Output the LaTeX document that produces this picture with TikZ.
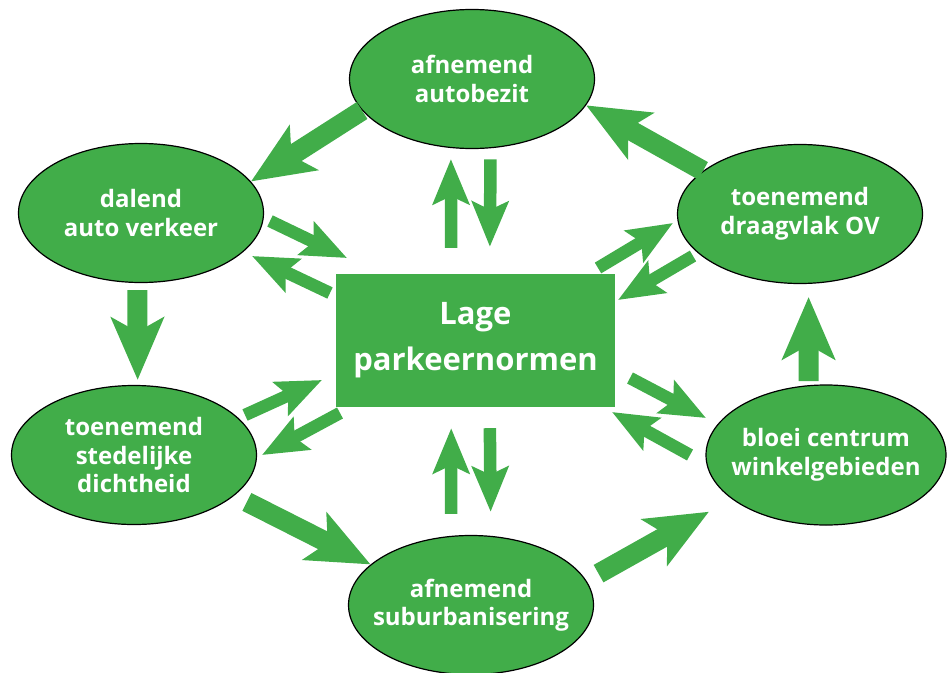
\documentclass[tikz,border=0pt]{standalone}
\usepackage{fontspec}
\setmainfont{Open Sans}
\usetikzlibrary{shapes.geometric, arrows.meta, positioning}
\definecolor{pijlgroen}{RGB}{65,173,73}
\tikzset{
	bol/.style={ellipse, draw=black, line width=1.2pt, fill=pijlgroen, minimum width=245pt, minimum height=139pt, inner sep=0pt},
	boltekst/.style={align=center, text=white, font=\fontsize{24}{28.5}\selectfont\bfseries},
	blok/.style={rectangle, fill=pijlgroen, minimum width=279pt, minimum height=133pt},
	bloktekst/.style={align=center, text=white, font=\fontsize{31}{46}\selectfont\bfseries},
	grotepijl/.style={draw=pijlgroen, line width=20pt, -{Stealth[length=62pt, width=52pt, inset=14pt]}},
	kleinepijl/.style={draw=pijlgroen, line width=12.5pt, -{Stealth[length=45pt, width=36pt, inset=8pt]}}
}

\begin{document}
\begin{tikzpicture}[x=1pt, y=-1pt]
		\useasboundingbox (0,0) rectangle (947,672);
		
		% Centre
		\node[blok] (parkeer) at (475.5,340.5) {};
		\node[bloktekst] at (parkeer) {Lage\\parkeernormen};
		
		% Ring of effects
		\node[bol] (autobezit) at (472,79) {};
		\node[boltekst] at (autobezit) {afnemend\\autobezit};
		
		\node[bol] (verkeer) at (141,213) {};
		\node[boltekst] at (verkeer) {dalend\\auto verkeer};
		
		\node[bol] (draagvlak) at (800,214) {};
		\node[boltekst] at (draagvlak) {toenemend\\draagvlak OV};
		
		\node[bol] (dichtheid) at (134,455) {};
		\node[boltekst] at (dichtheid) {toenemend\\stedelijke\\dichtheid};
		
		\node[bol, minimum width=240pt, minimum height=140pt] (winkel) at (826,455) {};
		\node[boltekst] at (winkel) {bloei centrum\\winkelgebieden};
		
		\node[bol] (suburb) at (471,605) {};
		\node[boltekst] at (suburb) {afnemend\\suburbanisering};
		
		% Free ends of the small diagonal arrows
		\coordinate (lb1) at (270,221);  \coordinate (lb2) at (347,258);
		\coordinate (lb3) at (330,293);  \coordinate (lb4) at (252,256);
		\coordinate (lo1) at (245,415);  \coordinate (lo2) at (322,380);
		\coordinate (lo3) at (340,413);  \coordinate (lo4) at (262,455);
		\coordinate (rb1) at (598,268);  \coordinate (rb2) at (673,223);
		\coordinate (rb3) at (693,256);  \coordinate (rb4) at (618,300);
		\coordinate (ro1) at (630,378);  \coordinate (ro2) at (706,418);
		\coordinate (ro3) at (690,455);  \coordinate (ro4) at (612,412);
		
		% Big arrows round the ring
		\draw[grotepijl] (autobezit.196) -- (verkeer.16);
		\draw[grotepijl, shorten <=7pt, shorten >=5pt] (verkeer.-93) -- (dichtheid.87);
		\draw[grotepijl, shorten <=14pt] (dichtheid.-22) -- (suburb.158);
		\draw[grotepijl, shorten <=14pt, shorten >=26pt] (suburb.12) -- (winkel.-155);
		\draw[grotepijl, shorten <=4pt, shorten >=13pt] (winkel.104) -- (draagvlak.-83);
		\draw[grotepijl] (draagvlak.156) -- (autobezit.-13);
		
		% Small arrows to and from the centre
		\draw[kleinepijl, shorten <=26pt, shorten >=11pt] (parkeer.110) -- (autobezit.-107);
		\draw[kleinepijl, shorten <=11pt, shorten >=27pt] (autobezit.-75) -- (parkeer.78);
		\draw[kleinepijl, shorten <=22pt, shorten >=21pt] (suburb.106) -- (parkeer.-110);
		\draw[kleinepijl, shorten <=21pt, shorten >=24pt] (parkeer.-78) -- (suburb.74);
		\draw[kleinepijl] (lb1) -- (lb2);
		\draw[kleinepijl] (lb3) -- (lb4);
		\draw[kleinepijl] (lo1) -- (lo2);
		\draw[kleinepijl] (lo3) -- (lo4);
		\draw[kleinepijl] (rb1) -- (rb2);
		\draw[kleinepijl] (rb3) -- (rb4);
		\draw[kleinepijl] (ro1) -- (ro2);
		\draw[kleinepijl] (ro3) -- (ro4);
	\end{tikzpicture}
\end{document}
